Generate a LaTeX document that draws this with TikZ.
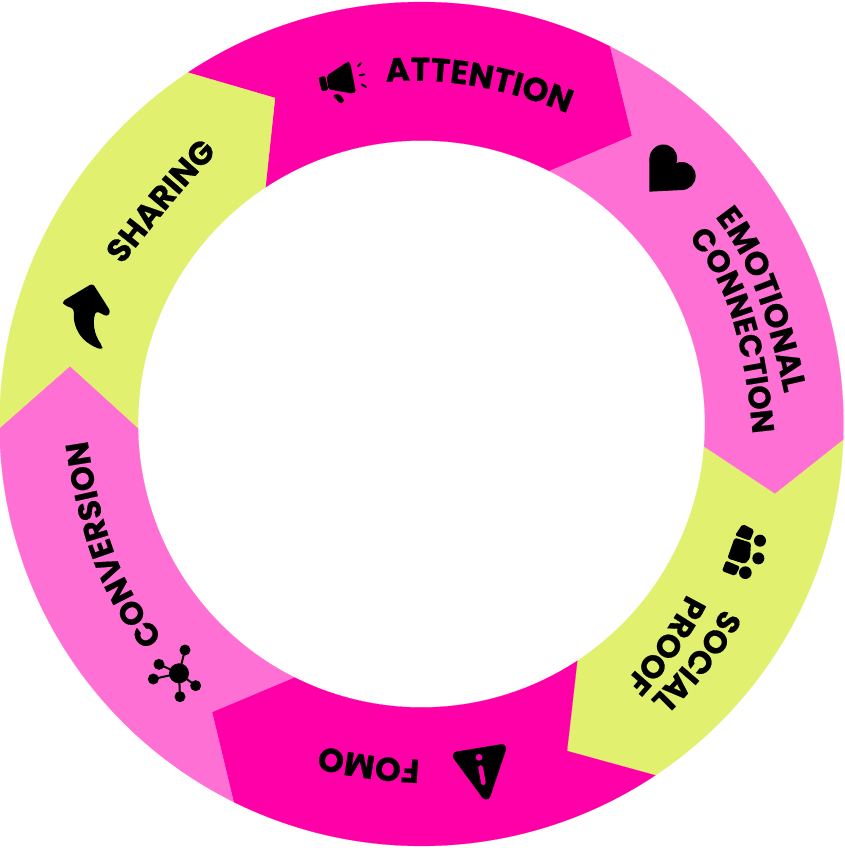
\documentclass[tikz,border=0pt]{standalone}
\usepackage{fontspec}
\usetikzlibrary{decorations.text,calc}
\newfontfamily\lblf[BoldFeatures={FakeBold=0.5}]{Poppins}
\definecolor{hotpink}{RGB}{255,0,168}
\definecolor{softpink}{RGB}{255,112,212}
\definecolor{limey}{RGB}{226,240,112}
\newcommand{\lbl}[1]{\lblf\bfseries\fontsize{#1}{#1}\selectfont}
\tikzset{
  seg/.style={fill=#1,draw=#1,line width=0.2pt,line join=miter},
  lblpath/.style 2 args={decorate,decoration={text along path,text align=left,text={|\lbl{#1}|#2}}},
  icon/.style={fill=black,draw=none},
  zoomed/.style 2 args={shift={(#1,#2)},x=0.33333pt,y=-0.33333pt}
}
\begin{document}
\begin{tikzpicture}[x=1pt,y=-1pt]
\useasboundingbox (0,0) rectangle (844,848);
\fill[white] (0,0) rectangle (844,848);
\coordinate (c) at (421.5,424);
% ring segments
\path[seg=hotpink] ($(c)+(-123.6:422)$) arc[start angle=-123.6,end angle=-63.43,radius=422] -- (632,136) -- ($(c)+(-63.16:283.5)$) arc[start angle=-63.16,end angle=-123.4,radius=283.5] -- (275,98) -- cycle;
\path[seg=softpink] ($(c)+(-63.43:422)$) arc[start angle=-63.43,end angle=2.18,radius=422] -- (775,494) -- ($(c)+(4.65:283.5)$) arc[start angle=4.65,end angle=-63.16,radius=283.5] -- (632,136) -- cycle;
\path[seg=limey] ($(c)+(2.18:422)$) arc[start angle=2.18,end angle=56.36,radius=422] -- (567,751) -- ($(c)+(56.67:283.5)$) arc[start angle=56.67,end angle=4.65,radius=283.5] -- (775,494) -- cycle;
\path[seg=hotpink] ($(c)+(56.36:422)$) arc[start angle=56.36,end angle=116.44,radius=422] -- (212,712) -- ($(c)+(116.66:283.5)$) arc[start angle=116.66,end angle=56.67,radius=283.5] -- (567,751) -- cycle;
\path[seg=softpink] ($(c)+(116.44:422)$) arc[start angle=116.44,end angle=179.46,radius=422] -- (70,366) -- ($(c)+(179.2:283.5)$) arc[start angle=179.2,end angle=116.66,radius=283.5] -- (212,712) -- cycle;
\path[seg=limey] ($(c)+(179.46:422)$) arc[start angle=179.46,end angle=236.4,radius=422] -- (275,98) -- ($(c)+(236.6:283.5)$) arc[start angle=236.6,end angle=179.2,radius=283.5] -- (70,366) -- cycle;
% labels
\path[lblpath={33}{ATTENTION}] (386,82) .. controls (440,77) and (510,86) .. (592,124);
\path[lblpath={32.5}{EMOTIONAL}] (715,217) .. controls (753,263) and (772.5,332) .. (792,430);
\path[lblpath={31}{CONNECTION}] (688,238) .. controls (735,290) and (747,363) .. (756,470);
\path[lblpath={32}{SOCIAL}] (723,608) .. controls (706,640) and (676,678) .. (627,722);
\path[lblpath={32}{PROOF}] (687,594) .. controls (674,621) and (648,660) .. (607,701);
\path[lblpath={33}{FOMO}] (420,760) .. controls (385,758) and (350,755) .. (290,738);
\path[lblpath={32}{CONVERSION}] (163,637) .. controls (117.5,584) and (95,513) .. (83,405);
\path[lblpath={32.5}{SHARING}] (122,265) .. controls (147,234) and (188,179) .. (240,130);
% megaphone
\begin{scope}[zoomed={300}{40}]
\fill[icon,rounded corners=2pt] (80,107) -- (143,65) -- (150,66) -- (168,157) -- (160,161) -- (85,148) -- cycle;
\fill[icon,rounded corners=2pt] (55,113) -- (75,107) -- (85,150) -- (66,155) -- cycle;
\fill[icon,rounded corners=2pt] (98,166) -- (118,161) -- (134,182) -- (122,192) -- cycle;
\draw[line width=2pt,line cap=round] (174,79) -- (183,69) (179,106) -- (193,103) (185,133) -- (198,141);
\end{scope}
% heart
\begin{scope}[zoomed={630}{130}]
\fill[icon] (100,85) circle (41.5);
\fill[icon] (155,138) circle (42);
\fill[icon] (58,85) -- (100,85) -- (140,100) -- (155,139) -- (158,180) -- (58,185) -- cycle;
\end{scope}
% people
\begin{scope}[zoomed={610}{510}]
\fill[icon,rounded corners=2pt] (398,42) -- (433,60) -- (420,92) -- (375,76) -- cycle;
\fill[icon,rounded corners=2.5pt] (374,83) -- (423,98) -- (420,145) -- (405,162) -- (352,145) -- cycle;
\fill[icon,rounded corners=2pt] (348,152) -- (390,170) -- (376,198) -- (336,183) -- cycle;
\fill[icon] (450,92) circle (18);
\fill[icon] (445,145) circle (18);
\fill[icon] (406,188) circle (19);
\end{scope}
% warning triangle
\begin{scope}[zoomed={300}{730}]
\filldraw[black,line width=9pt,line join=round] (472,78) -- (605,56) -- (558,195) -- cycle;
\fill[hotpink] (537,82) circle (10);
\draw[hotpink,line width=4.7pt,line cap=round] (542,113) -- (550,158);
\end{scope}
% network
\begin{scope}[zoomed={50}{430}]
\draw[line width=2pt] (387,730) -- (405,660) (387,730) -- (327,703) (387,730) -- (310,747) (387,730) -- (437,767) (387,730) -- (390,800);
\fill[icon] (387,730) circle (30);
\foreach \p in {(405,660),(327,703),(310,747),(437,767),(390,800)} \fill[icon] \p circle (16.5);
\end{scope}
% arrow
\begin{scope}[zoomed={50}{130}]
\fill[icon,rounded corners=3pt] (128,460) -- (37,514) -- (42,525) -- (72,537) .. controls (68,590) and (90,635) .. (155,659) -- (158,650) .. controls (130,610) and (128,575) .. (138,543) -- (172,560) -- (182,545) -- cycle;
\end{scope}
\end{tikzpicture}
\end{document}
